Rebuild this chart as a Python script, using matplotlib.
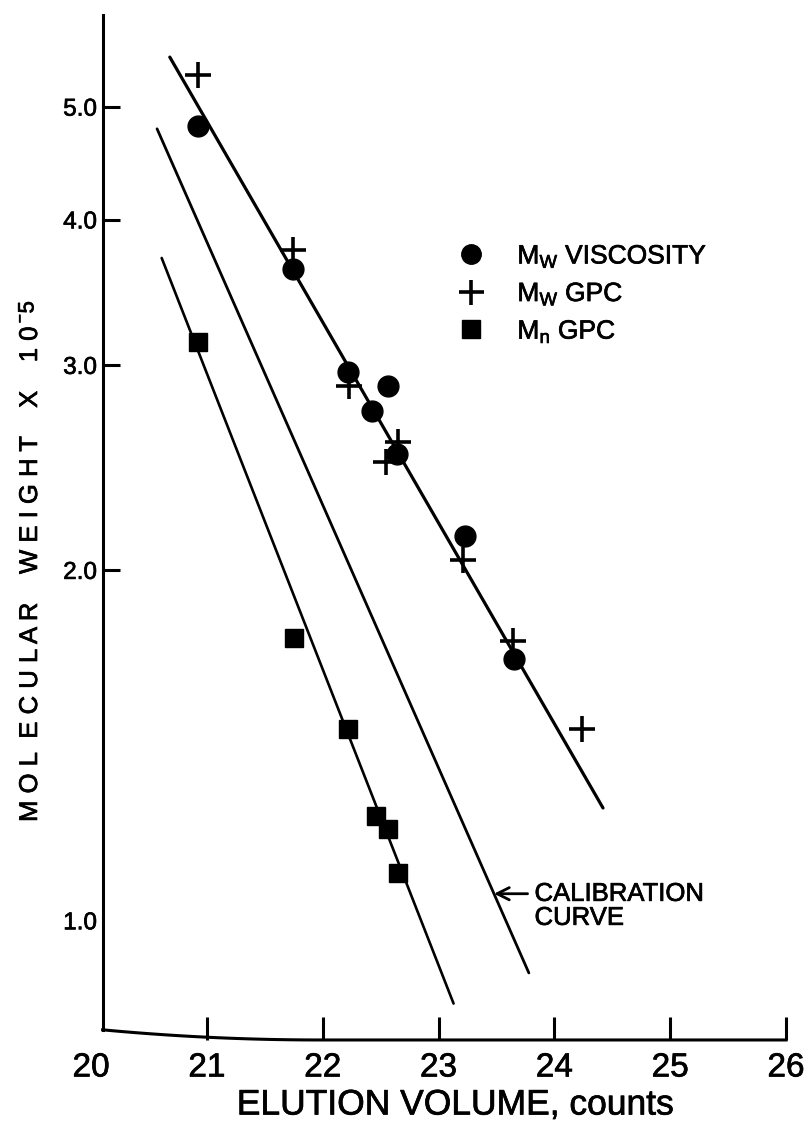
import numpy as np
import matplotlib
matplotlib.use("Agg")
import matplotlib.pyplot as plt
import matplotlib.patheffects as pe
from matplotlib.lines import Line2D
from matplotlib.text import Text
from matplotlib.ticker import NullLocator

plt.rcParams['font.family'] = ['Liberation Sans', 'DejaVu Sans']

# Mw from viscosity (circles)
visc_x = [20.92, 21.74, 22.22, 22.56, 22.43, 22.64, 23.23, 23.65]
visc_mw = [4.82, 3.63, 2.96, 2.88, 2.74, 2.52, 2.14, 1.68]

# Mw from GPC (plus)
gpc_w_x = [20.92, 21.74, 22.23, 22.65, 22.55, 23.21, 23.64, 24.24]
gpc_mw = [5.33, 3.77, 2.88, 2.58, 2.48, 2.04, 1.74, 1.46]

# Mn from GPC (squares)
gpc_n_x = [20.92, 21.75, 22.22, 22.46, 22.56, 22.65]
gpc_mn = [3.14, 1.75, 1.46, 1.23, 1.20, 1.10]

# straight-line fits on semilog paper (end points)
mw_fit_x = [20.68, 24.42]
mw_fit_y = [5.52, 1.25]
calib_x = [20.57, 23.78]
calib_y = [4.79, 0.902]
mn_fit_x = [20.61, 23.13]
mn_fit_y = [3.71, 0.849]

y_ticks = [1.0, 2.0, 3.0, 4.0, 5.0]
x_ticks = [20, 21, 22, 23, 24, 25, 26]

fig = plt.figure(figsize=(8.12, 11.32), dpi=100)
ax = fig.add_axes([0.1121, 0.0813, 0.8559, 0.9055])
ax.set_yscale('log')
ax.set_xlim(20, 26)
ax.set_ylim(0.79, 6.0)

ax.plot(mw_fit_x, mw_fit_y, color='black', lw=2.3, solid_capstyle='round')
ax.plot(calib_x, calib_y, color='black', lw=2.0, solid_capstyle='round')
ax.plot(mn_fit_x, mn_fit_y, color='black', lw=1.9, solid_capstyle='round')

ax.plot(visc_x, visc_mw, 'o', color='black', ms=15, zorder=3)
ax.plot(gpc_w_x, gpc_mw, '+', color='black', ms=19, mew=2.6, zorder=3)
ax.plot(gpc_n_x, gpc_mn, 's', color='black', ms=13.5, zorder=3)

# arrow pointing at the calibration line
arrow_y = 1.055
lx = np.log10(calib_y)[::-1]
head_x = np.interp(np.log10(arrow_y), lx, calib_x[::-1])
ax.annotate('', xy=(head_x, arrow_y), xytext=(head_x + 0.29, arrow_y),
            arrowprops=dict(arrowstyle='->', lw=2.0, color='black',
                            mutation_scale=22, shrinkA=0, shrinkB=0))
ax.text(head_x + 0.35, 1.03, 'CALIBRATION\nCURVE', fontsize=18.5,
        ha='left', va='center', linespacing=1.0)

# axes styling
for side in ['top', 'right', 'bottom']:
    ax.spines[side].set_visible(False)
ax.spines['left'].set_position(('data', 20.1))
ax.spines['left'].set_bounds(0.806, 6.0)
ax.spines['left'].set_linewidth(2.2)

# hand-drawn bottom axis with a soft corner
t = np.linspace(0, 1, 40)
bx = np.concatenate([0.0167 + t * (0.33 - 0.0167), [1.0]])
by = np.concatenate([0.0099 * (1 - t) ** 2, [0.0]])
ax.plot(bx, by, color='black', lw=2.2, transform=ax.transAxes, clip_on=False)

ax.yaxis.set_minor_locator(NullLocator())
ax.set_yticks(y_ticks)
ax.set_yticklabels([f'{v:.1f}' for v in y_ticks])
ax.set_xticks(x_ticks)
ax.set_xticklabels([str(v) for v in x_ticks])
ax.tick_params(axis='y', direction='in', length=12, width=2.2, pad=4, labelsize=17.5)
ax.tick_params(axis='x', direction='in', length=16.5, width=2.2, pad=9, labelsize=24)
ax.yaxis.get_major_ticks()[0].tick1line.set_visible(False)
ax.xaxis.get_major_ticks()[0].tick1line.set_visible(False)

handles = [
    Line2D([], [], marker='o', ls='none', color='black', ms=14),
    Line2D([], [], marker='+', ls='none', color='black', ms=18, mew=2.6),
    Line2D([], [], marker='s', ls='none', color='black', ms=13),
]
labels = [r'M$_{\mathregular{W}}$ VISCOSITY', r'M$_{\mathregular{W}}$ GPC',
          r'M$_{\mathregular{n}}$ GPC']
fig.legend(handles, labels, loc='center left', bbox_to_anchor=(0.564, 0.740),
           frameon=False, fontsize=19, handlelength=1.0, handletextpad=1.25,
           labelspacing=0.42, borderpad=0, borderaxespad=0)

fig.text(455 / 812, 1 - 1105 / 1132, 'ELUTION VOLUME, counts', fontsize=25.5,
         ha='center', va='center')

# spaced-out axis title, with the power of ten set after it
ylab = fig.text(30 / 812, 1 - 822 / 1132,
                'M O L  E C U L A R    W E I G H T    X    1 0',
                fontsize=18.5, rotation=90, ha='center', va='bottom')
fig.canvas.draw()
top_px = ylab.get_window_extent().y1
fig.text(28 / 812, (top_px + 3) / fig.bbox.height, r'$^{\mathregular{-}}$5',
         fontsize=16, rotation=90, ha='center', va='bottom')

# slightly heavier lettering
for txt in fig.findobj(Text):
    txt.set_path_effects([pe.withStroke(linewidth=0.5, foreground='black')])

fig.savefig('out.png', dpi=100)
